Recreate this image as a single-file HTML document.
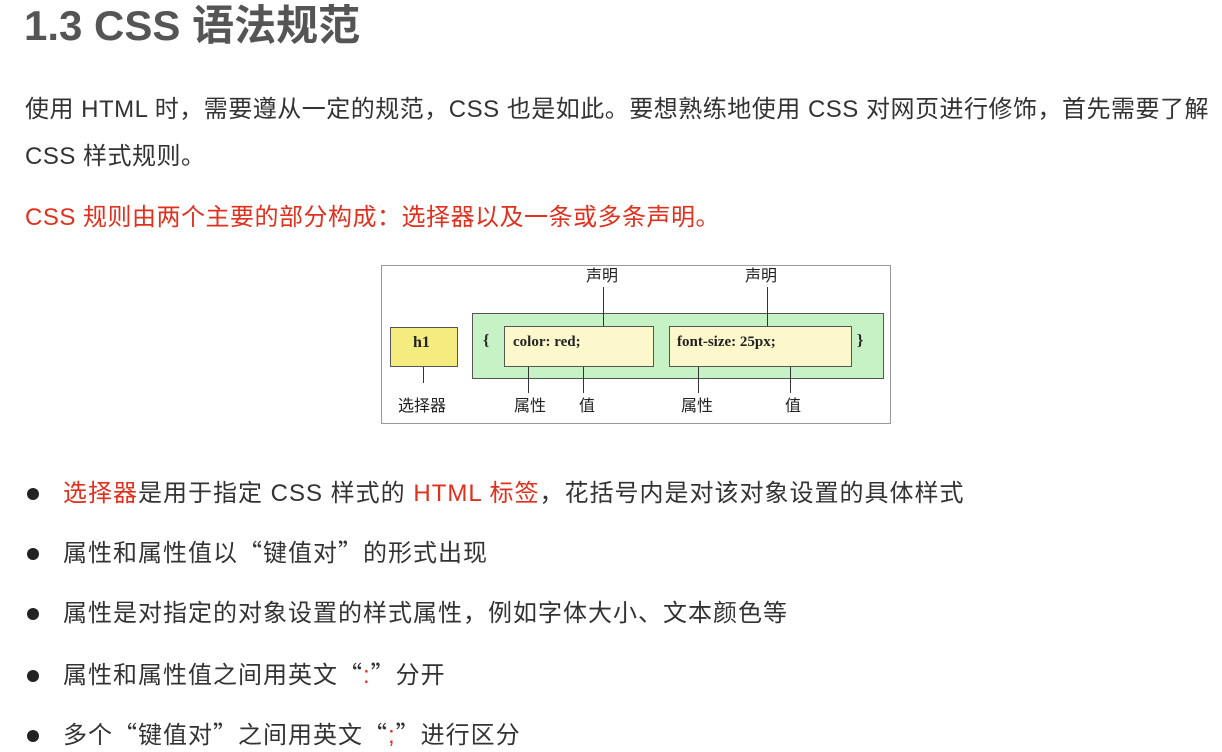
<!DOCTYPE html>
<html><head><meta charset="utf-8"><style>
body{margin:0;width:1222px;height:747px;background:#fff;position:relative;overflow:hidden;font-family:"Liberation Sans","Noto Sans CJK SC",sans-serif;color:#333}
.a{position:absolute;white-space:nowrap}
.t{font-size:24px;line-height:32px;letter-spacing:1px}
.p{letter-spacing:0.5px}
.r{color:#e0301e}
.q{font-family:"Noto Sans CJK SC",sans-serif;line-height:0}
.dot{position:absolute;left:27px;width:12px;height:12px;border-radius:50%;background:#222}
.s{font-family:"Liberation Serif","Noto Serif CJK SC",serif;color:#222}
.b{position:absolute;box-sizing:border-box}
.l{position:absolute;width:1px;background:#333}
.lab{position:absolute;font-size:16px;line-height:18px;font-family:"Noto Sans CJK SC",sans-serif;color:#222;transform:translateX(-50%)}
</style></head><body>
<div class="a" style="left:24px;top:0px;font-size:42px;font-weight:bold;color:#555;line-height:52px">1.3 CSS 语法规范</div>
<div class="a t p" style="left:25px;top:94px">使用 HTML 时，需要遵从一定的规范，CSS 也是如此。要想熟练地使用 CSS 对网页进行修饰，首先需要了解</div>
<div class="a t p" style="left:25px;top:141px">CSS 样式规则。</div>
<div class="a t p r" style="left:25px;top:202px">CSS 规则由两个主要的部分构成：选择器以及一条或多条声明。</div>

<div class="b" style="left:381px;top:265px;width:510px;height:159px;border:1px solid #999"></div>
<div class="b" style="left:472px;top:313px;width:412px;height:66px;background:#c6f2c6;border:1px solid #555"></div>
<div class="b" style="left:390px;top:327px;width:68px;height:40px;background:#f5ec7f;border:1px solid #555"></div>
<div class="b" style="left:504px;top:326px;width:150px;height:41px;background:#fdf8cc;border:1px solid #555"></div>
<div class="b" style="left:669px;top:326px;width:183px;height:41px;background:#fdf8cc;border:1px solid #555"></div>
<div class="a s" style="left:413px;top:334px;font-size:16px;font-weight:bold">h1</div>
<div class="a s" style="left:513px;top:334px;font-size:15px;font-weight:bold">color: red;</div>
<div class="a s" style="left:677px;top:334px;font-size:15px;font-weight:bold">font-size: 25px;</div>
<div class="a s" style="left:483px;top:332px;font-size:16px;font-weight:bold">{</div>
<div class="a s" style="left:857px;top:332px;font-size:16px;font-weight:bold">}</div>
<div class="l" style="left:603px;top:287px;height:39px"></div>
<div class="l" style="left:767px;top:287px;height:39px"></div>
<div class="l" style="left:423px;top:367px;height:16px"></div>
<div class="l" style="left:528px;top:367px;height:26px"></div>
<div class="l" style="left:583px;top:367px;height:26px"></div>
<div class="l" style="left:698px;top:367px;height:26px"></div>
<div class="l" style="left:790px;top:367px;height:26px"></div>
<div class="lab" style="left:602px;top:265px">声明</div>
<div class="lab" style="left:761px;top:265px">声明</div>
<div class="lab" style="left:422px;top:395px">选择器</div>
<div class="lab" style="left:530px;top:395px">属性</div>
<div class="lab" style="left:587px;top:395px">值</div>
<div class="lab" style="left:697px;top:395px">属性</div>
<div class="lab" style="left:793px;top:395px">值</div>

<div class="dot" style="top:488px"></div>
<div class="a t" style="left:63px;top:478px"><span class="r">选择器</span>是用于指定 CSS 样式的 <span class="r">HTML 标签</span>，花括号内是对该对象设置的具体样式</div>
<div class="dot" style="top:548px"></div>
<div class="a t" style="left:63px;top:538px">属性和属性值以<span class="q">“</span>键值对<span class="q">”</span>的形式出现</div>
<div class="dot" style="top:608px"></div>
<div class="a t" style="left:63px;top:598px">属性是对指定的对象设置的样式属性，例如字体大小、文本颜色等</div>
<div class="dot" style="top:670px"></div>
<div class="a t" style="left:63px;top:660px">属性和属性值之间用英文<span class="q">“</span><span class="r">:</span><span class="q">”</span>分开</div>
<div class="dot" style="top:730px"></div>
<div class="a t" style="left:63px;top:720px">多个<span class="q">“</span>键值对<span class="q">”</span>之间用英文<span class="q">“</span><span class="r">;</span><span class="q">”</span>进行区分</div>
</body></html>
